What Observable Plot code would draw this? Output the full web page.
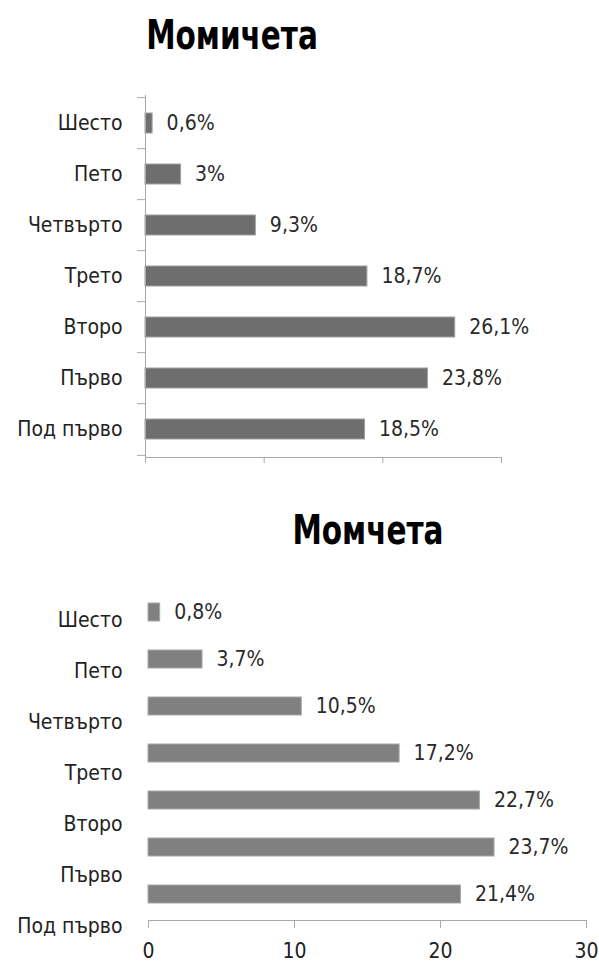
<!DOCTYPE html>
<html>
<head>
<meta charset="utf-8">
<script src="https://cdn.jsdelivr.net/npm/d3@7"></script>
<script src="https://cdn.jsdelivr.net/npm/@observablehq/plot@0.6"></script>
<style>
  html, body { margin: 0; padding: 0; background: #fff; }
  #wrap { position: relative; width: 599px; height: 964px; overflow: hidden; }
  #wrap > * { position: absolute; }
  .title { font-family: 'DejaVu Sans Condensed', 'Liberation Sans', sans-serif; font-weight: bold; font-size: 40px; line-height: 1; color: #000; transform: translateX(-50%) scaleX(0.82); white-space: nowrap; }
</style>
</head>
<body>
<div id="wrap">
  <div class="title" id="t1" style="left:232px; top:15px;">Момичета</div>
  <div class="title" id="t2" style="left:368px; top:510px;">Момчета</div>
</div>
<script>
const categories = ["Шесто", "Пето", "Четвърто", "Трето", "Второ", "Първо", "Под първо"];
const girlsValues = [0.6, 3, 9.3, 18.7, 26.1, 23.8, 18.5];
const boysValues = [0.8, 3.7, 10.5, 17.2, 22.7, 23.7, 21.4];
const xTicks = [0, 10, 20, 30];

const fmt = v => String(v).replace(".", ",") + "%";
const girls = categories.map((c, i) => ({cat: c, value: girlsValues[i], label: fmt(girlsValues[i])}));
const boys = categories.map((c, i) => ({cat: c, value: boysValues[i], label: fmt(boysValues[i])}));

const FONT = "'DejaVu Sans Condensed', 'Liberation Sans', sans-serif";
const FS = 21;
const AXIS = "#a8a8a8";
const wrap = document.getElementById("wrap");

function place(svg, left, top) {
  svg.style.left = left + "px";
  svg.style.top = top + "px";
  wrap.appendChild(svg);
}

// Top chart (girls)
{
  const H = 400, mt = 15, mb = 23;
  const step = (H - mt - mb) / categories.length;
  const svg = Plot.plot({
    width: 599, height: H,
    marginTop: mt, marginBottom: mb, marginLeft: 145, marginRight: 98,
    style: {fontFamily: FONT, fontSize: FS + "px", color: "#222", background: "transparent", overflow: "visible"},
    x: {domain: [0, 30], axis: null},
    y: {domain: categories, paddingInner: 0.6, paddingOuter: 0.3, axis: null},
    marks: [
      Plot.barX(girls, {x: "value", y: "cat", fill: "#6e6e6e", stroke: "#a0a0a0", strokeWidth: 1}),
      Plot.text(girls, {x: "value", y: "cat", text: "label", dx: 14, textAnchor: "start", fill: "#2a2a2a", fontSize: FS}),
      Plot.ruleX([0], {stroke: AXIS}),
      Plot.axisY({tickSize: 8, tickFormat: () => "", label: null, dy: -step / 2, stroke: AXIS}),
      Plot.axisY({ticks: [categories[categories.length - 1]], tickSize: 8, tickFormat: () => "", label: null, dy: step / 2, stroke: AXIS}),
      Plot.axisY({tickSize: 0, tickPadding: 23, fontSize: FS, label: null, fill: "#222"}),
      Plot.frame({anchor: "bottom", stroke: AXIS}),
      Plot.axisX({ticks: xTicks, tickSize: 6, tickFormat: () => "", label: null, stroke: AXIS})
    ]
  });
  place(svg, 0, 80);
}

// Bottom chart (boys) bars
{
  const svg = Plot.plot({
    width: 599, height: 404,
    marginTop: 27, marginBottom: 44, marginLeft: 148, marginRight: 13,
    style: {fontFamily: FONT, fontSize: FS + "px", color: "#222", background: "transparent", overflow: "visible"},
    x: {domain: [0, 30], axis: null},
    y: {domain: categories, paddingInner: 0.61, paddingOuter: 0.305, axis: null},
    marks: [
      Plot.barX(boys, {x: "value", y: "cat", fill: "#808080", stroke: "#a8a8a8", strokeWidth: 1}),
      Plot.text(boys, {x: "value", y: "cat", text: "label", dx: 14, textAnchor: "start", fill: "#2a2a2a", fontSize: FS}),
      Plot.frame({anchor: "bottom", stroke: AXIS}),
      Plot.axisX({ticks: xTicks, tickSize: 8, tickPadding: 15, fontSize: FS, label: null, stroke: AXIS, fill: "#222"})
    ]
  });
  place(svg, 0, 560);
}

// Bottom chart (boys) category labels (offset from bars, as in the reference)
{
  const svg = Plot.plot({
    width: 150, height: 404,
    marginTop: 32, marginBottom: 10, marginLeft: 148, marginRight: 0,
    style: {fontFamily: FONT, fontSize: FS + "px", color: "#222", background: "transparent", overflow: "visible"},
    y: {domain: categories, paddingInner: 0.6, paddingOuter: 0.3, axis: null},
    marks: [
      Plot.axisY({tickSize: 0, tickPadding: 26, fontSize: FS, label: null, fill: "#222"})
    ]
  });
  place(svg, 0, 560);
}
</script>
</body>
</html>
